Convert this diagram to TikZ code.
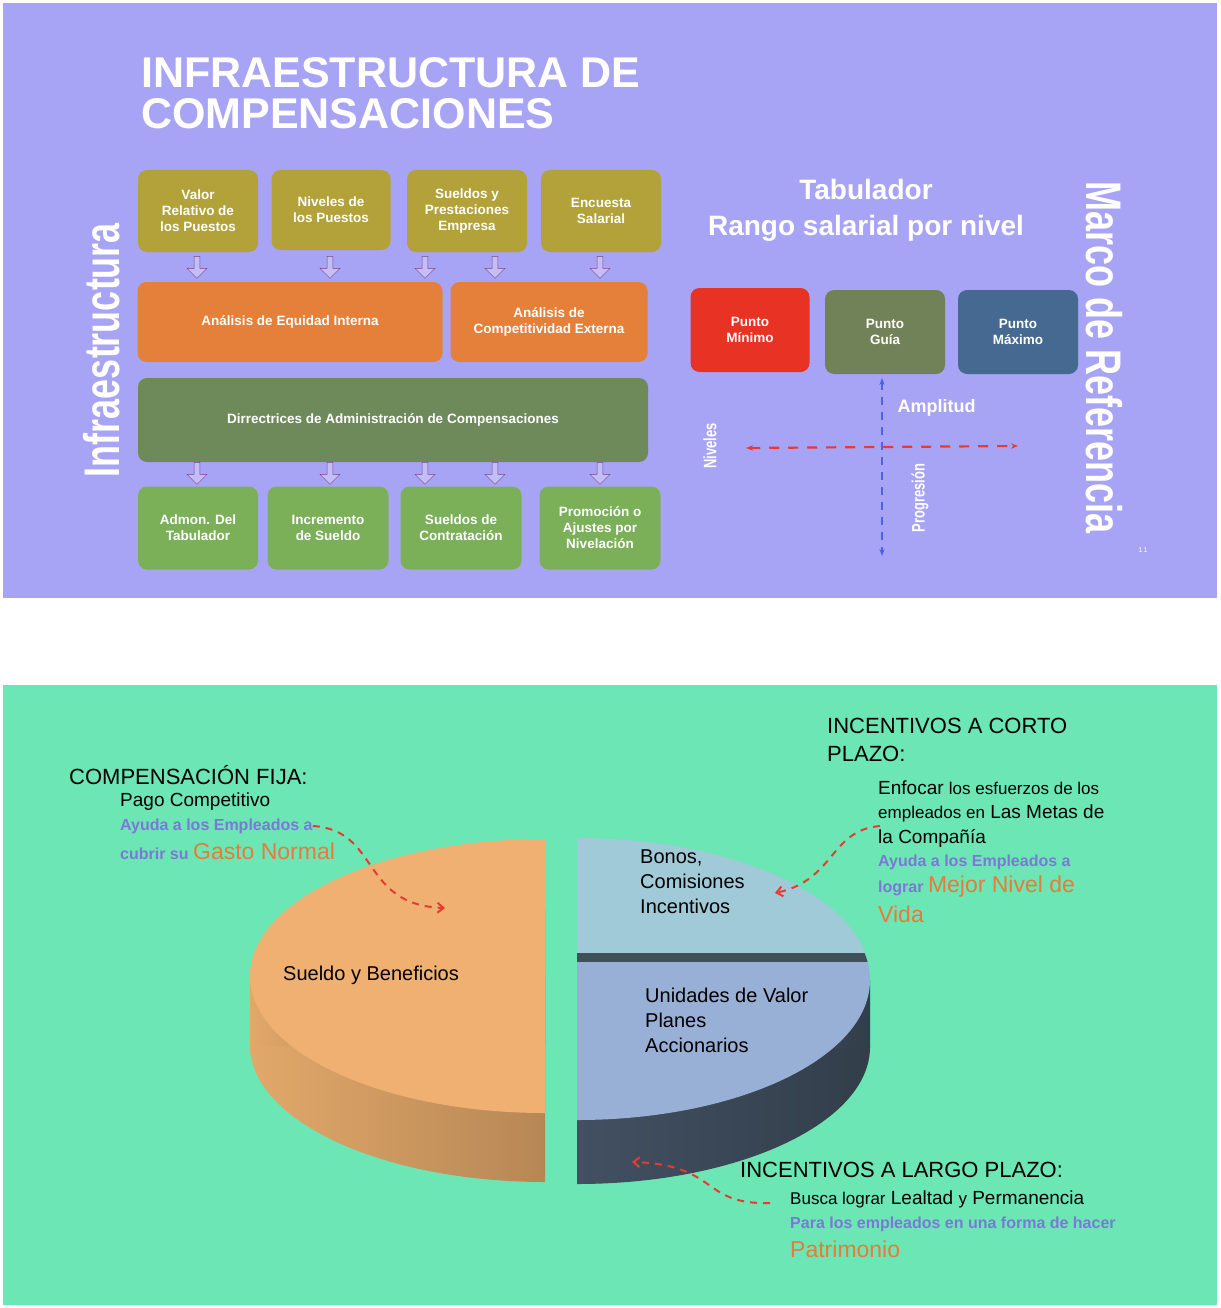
\documentclass[tikz,border=0pt]{standalone}
\usepackage{fontspec}
\setmainfont{Liberation Sans}
\newfontfamily\narrowfont[FakeStretch=0.72]{Liberation Sans}
\usetikzlibrary{shapes.arrows,arrows.meta}
\definecolor{panelpurple}{HTML}{A8A4F5}
\definecolor{panelgreen}{HTML}{6CE6B5}
\definecolor{olivebox}{HTML}{B3A23A}
\definecolor{orangebox}{HTML}{E5803A}
\definecolor{greybox}{HTML}{6F8A5A}
\definecolor{greenbox}{HTML}{7CB058}
\definecolor{minred}{HTML}{E83324}
\definecolor{guiagreen}{HTML}{728258}
\definecolor{maxblue}{HTML}{456990}
\definecolor{helpblue}{HTML}{7C78D8}
\definecolor{goalorange}{HTML}{E87A3A}
\definecolor{dashred}{HTML}{E83A30}
\definecolor{dashblue}{HTML}{5060E8}
\definecolor{pieorange}{HTML}{F0B072}
\definecolor{sidelight}{HTML}{E2A86A}
\definecolor{sidedark}{HTML}{8A6640}
\definecolor{pieblue}{HTML}{98B0D6}
\definecolor{pielight}{HTML}{A0CAD8}
\definecolor{piestrip}{HTML}{3E5058}
\definecolor{bsidelight}{HTML}{52627A}
\definecolor{bsidedark}{HTML}{323E4A}
\tikzset{
  box/.style={rounded corners=9pt,text=white,align=center,font=\bfseries\fontsize{13.5}{16}\selectfont,inner sep=0pt},
  downarrow/.style={single arrow,draw=violet!50!gray,fill=panelpurple!70!white,rotate=-90,minimum height=22pt,minimum width=20pt,single arrow head extend=3pt,inner sep=1pt},
  note/.style={anchor=west,inner sep=0pt,font=\fontsize{19}{21}\selectfont},
  bignote/.style={anchor=west,inner sep=0pt,font=\fontsize{22}{28}\selectfont},
  help/.style={text=helpblue,font=\bfseries\fontsize{16}{18}\selectfont},
  pielabel/.style={anchor=west,align=left,inner sep=0pt,font=\fontsize{20}{25}\selectfont},
  curvy/.style={dashred,line width=2pt,dash pattern=on 7pt off 6pt,-{Straight Barb[length=6pt,width=10pt]}}
}
\begin{document}
\begin{tikzpicture}[x=1pt,y=-1pt]
  \useasboundingbox (0,0) rectangle (1220,1308);
  % Fondos
  \fill[white] (0,0) rectangle (1220,1308);
  \fill[panelpurple] (3,3) rectangle (1217,598);
  \fill[panelgreen] (3,685) rectangle (1217,1305);

  % Titulo
  \node[anchor=west,align=left,text=white,inner sep=0pt,font=\bfseries\fontsize{43}{41}\selectfont] (title) at (141,93) {INFRAESTRUCTURA DE\\COMPENSACIONES};
  \node[rotate=90,text=white,inner sep=0pt,font=\narrowfont\bfseries\fontsize{50}{50}\selectfont] (infra) at (102,350) {Infraestructura};
  \node[rotate=-90,text=white,inner sep=0pt,font=\narrowfont\bfseries\fontsize{50}{50}\selectfont] (marco) at (1104,358) {Marco de Referencia};

  % Fila superior
  \node[box,fill=olivebox,minimum width=120pt,minimum height=82pt] (valor) at (198,211) {Valor\\Relativo de\\los Puestos};
  \node[box,fill=olivebox,minimum width=119pt,minimum height=80pt] (niveles) at (331,210) {Niveles de\\los Puestos};
  \node[box,fill=olivebox,minimum width=120pt,minimum height=82pt] (sueldos) at (467,211) {Sueldos y\\Prestaciones\\Empresa};
  \node[box,fill=olivebox,minimum width=120pt,minimum height=82pt] (encuesta) at (601,211) {Encuesta\\Salarial};

  % Analisis
  \node[box,fill=orangebox,minimum width=305pt,minimum height=80pt] (equidad) at (290,322) {Análisis de Equidad Interna};
  \node[box,fill=orangebox,minimum width=197pt,minimum height=80pt] (compet) at (549,322) {Análisis de\\Competitividad Externa};

  % Directrices
  \node[box,fill=greybox,minimum width=510pt,minimum height=84pt] (direc) at (393,420) {Dirrectrices de Administración de Compensaciones};

  % Fila inferior
  \node[box,fill=greenbox,minimum width=120pt,minimum height=83pt] (admon) at (198,528) {Admon. Del\\Tabulador};
  \node[box,fill=greenbox,minimum width=121pt,minimum height=83pt] (incr) at (328,528) {Incremento\\de Sueldo};
  \node[box,fill=greenbox,minimum width=121pt,minimum height=83pt] (contra) at (461,528) {Sueldos de\\Contratación};
  \node[box,fill=greenbox,minimum width=121pt,minimum height=83pt] (promo) at (600,528) {Promoción o\\Ajustes por\\Nivelación};

  % Flechas huecas
  \foreach \n/\x in {a1/197,a2/330,a3/425,a4/495,a5/600}
    \node[downarrow] (\n) at (\x,266) {};
  \foreach \n/\x in {b1/197,b2/330,b3/425,b4/495,b5/600}
    \node[downarrow] (\n) at (\x,472) {};

  % Tabulador
  \node[align=center,text=white,font=\bfseries\fontsize{28}{36}\selectfont] (tabul) at (866,210) {Tabulador\\Rango salarial por nivel};
  \node[box,fill=minred,minimum width=119pt,minimum height=84pt] (minimo) at (750,330) {Punto\\Mínimo};
  \node[box,fill=guiagreen,minimum width=120pt,minimum height=84pt] (guia) at (885,332) {Punto\\Guía};
  \node[box,fill=maxblue,minimum width=120pt,minimum height=84pt] (maximo) at (1018,332) {Punto\\Máximo};

  \coordinate (vtop) at (882,378);
  \coordinate (vbot) at (882,556);
  \coordinate (hleft) at (746,448);
  \coordinate (hright) at (1018,446);
  \draw[dashblue,line width=2.2pt,dash pattern=on 8pt off 7pt,{Stealth[length=7pt]}-{Stealth[length=7pt]}] (vtop) -- (vbot);
  \draw[dashred,line width=2.2pt,dash pattern=on 10pt off 9pt,{Stealth[length=7pt]}-{Stealth[length=7pt]}] (hleft) -- (hright);
  \node[anchor=west,text=white,font=\bfseries\fontsize{18}{20}\selectfont] (ampl) at (894,408) {Amplitud};
  \node[rotate=90,text=white,font=\narrowfont\bfseries\fontsize{18}{18}\selectfont] (nivtxt) at (710,446) {Niveles};
  \node[rotate=90,text=white,font=\narrowfont\bfseries\fontsize{18}{18}\selectfont] (progtxt) at (920,498) {Progresión};
  \node[text=white,font=\fontsize{7}{8}\selectfont] (pagenum) at (1143,550) {1\,1};

  % Pastel: mitad izquierda
  \begin{scope}
    \clip (240,800) rectangle (545,1200);
    \shade[left color=sidelight,right color=sidedark] (545,1045) ellipse (295 and 137);
    \shade[left color=sidelight,right color=sidedark] (250,975) rectangle (545,1045);
    \fill[pieorange] (545,976) ellipse (295 and 137);
  \end{scope}
  % Pastel: mitad derecha
  \begin{scope}
    \clip (577,800) rectangle (880,1200);
    \shade[left color=bsidelight,right color=bsidedark] (577,1047) ellipse (293 and 137);
    \shade[left color=bsidelight,right color=bsidedark] (577,980) rectangle (870,1047);
    \fill[pieblue] (577,980) ellipse (293 and 140);
    \clip (577,800) rectangle (880,961);
    \fill[piestrip] (577,980) ellipse (293 and 140);
    \clip (577,800) rectangle (880,952);
    \fill[pielight] (577,978) ellipse (293 and 140);
  \end{scope}

  \node[pielabel] (sueldo) at (283,975) {Sueldo y Beneficios};
  \node[pielabel,anchor=north west] (bonos) at (640,850) {Bonos,\\Comisiones\\Incentivos};
  \node[pielabel,anchor=north west] (unidades) at (645,988) {Unidades de Valor\\Planes\\Accionarios};

  % Textos compensacion fija
  \node[bignote] (fija) at (69,775) {COMPENSACIÓN FIJA:};
  \node[note] (pago) at (120,802) {Pago Competitivo};
  \node[note,help] (ayuda1) at (120,826) {Ayuda a los Empleados a};
  \node[note,help] (gasto) at (120,851) {cubrir su \textcolor{goalorange}{\mdseries\fontsize{23}{24}\selectfont Gasto Normal}};

  % Textos corto plazo
  \node[bignote,align=left,anchor=north west] (corto) at (827,718) {INCENTIVOS A CORTO\\PLAZO:};
  \node[note] (enfocar) at (878,788) {Enfocar {\fontsize{17}{18}\selectfont los esfuerzos de los}};
  \node[note] (metas) at (878,813) {{\fontsize{17}{18}\selectfont empleados en} Las Metas de};
  \node[note] (compania) at (878,838) {la Compañía};
  \node[note,help] (ayuda2) at (878,862) {Ayuda a los Empleados a};
  \node[note,help] (lograr) at (878,887) {lograr \textcolor{goalorange}{\mdseries\fontsize{23}{24}\selectfont Mejor Nivel de}};
  \node[note,text=goalorange,font=\fontsize{23}{24}\selectfont] (vida) at (878,914) {Vida};

  % Textos largo plazo
  \node[bignote] (largo) at (740,1170) {INCENTIVOS A LARGO PLAZO:};
  \node[note] (busca) at (790,1199) {{\fontsize{17}{18}\selectfont Busca lograr} Lealtad {\fontsize{17}{18}\selectfont y} Permanencia};
  \node[note,help] (para) at (790,1224) {Para los empleados en una forma de hacer};
  \node[note,text=goalorange,font=\fontsize{23}{24}\selectfont] (patri) at (790,1249) {Patrimonio};

  % Flechas curvas
  \coordinate (fijaend) at (445,908);
  \coordinate (cortoend) at (775,893);
  \coordinate (largoend) at (632,1162);
  \draw[curvy] (ayuda1.east) .. controls (380,830) and (360,905) .. (fijaend);
  \draw[curvy] (880,826) .. controls (830,830) and (835,880) .. (cortoend);
  \draw[curvy] (770,1203) .. controls (700,1205) and (720,1165) .. (largoend);
\end{tikzpicture}
\end{document}
